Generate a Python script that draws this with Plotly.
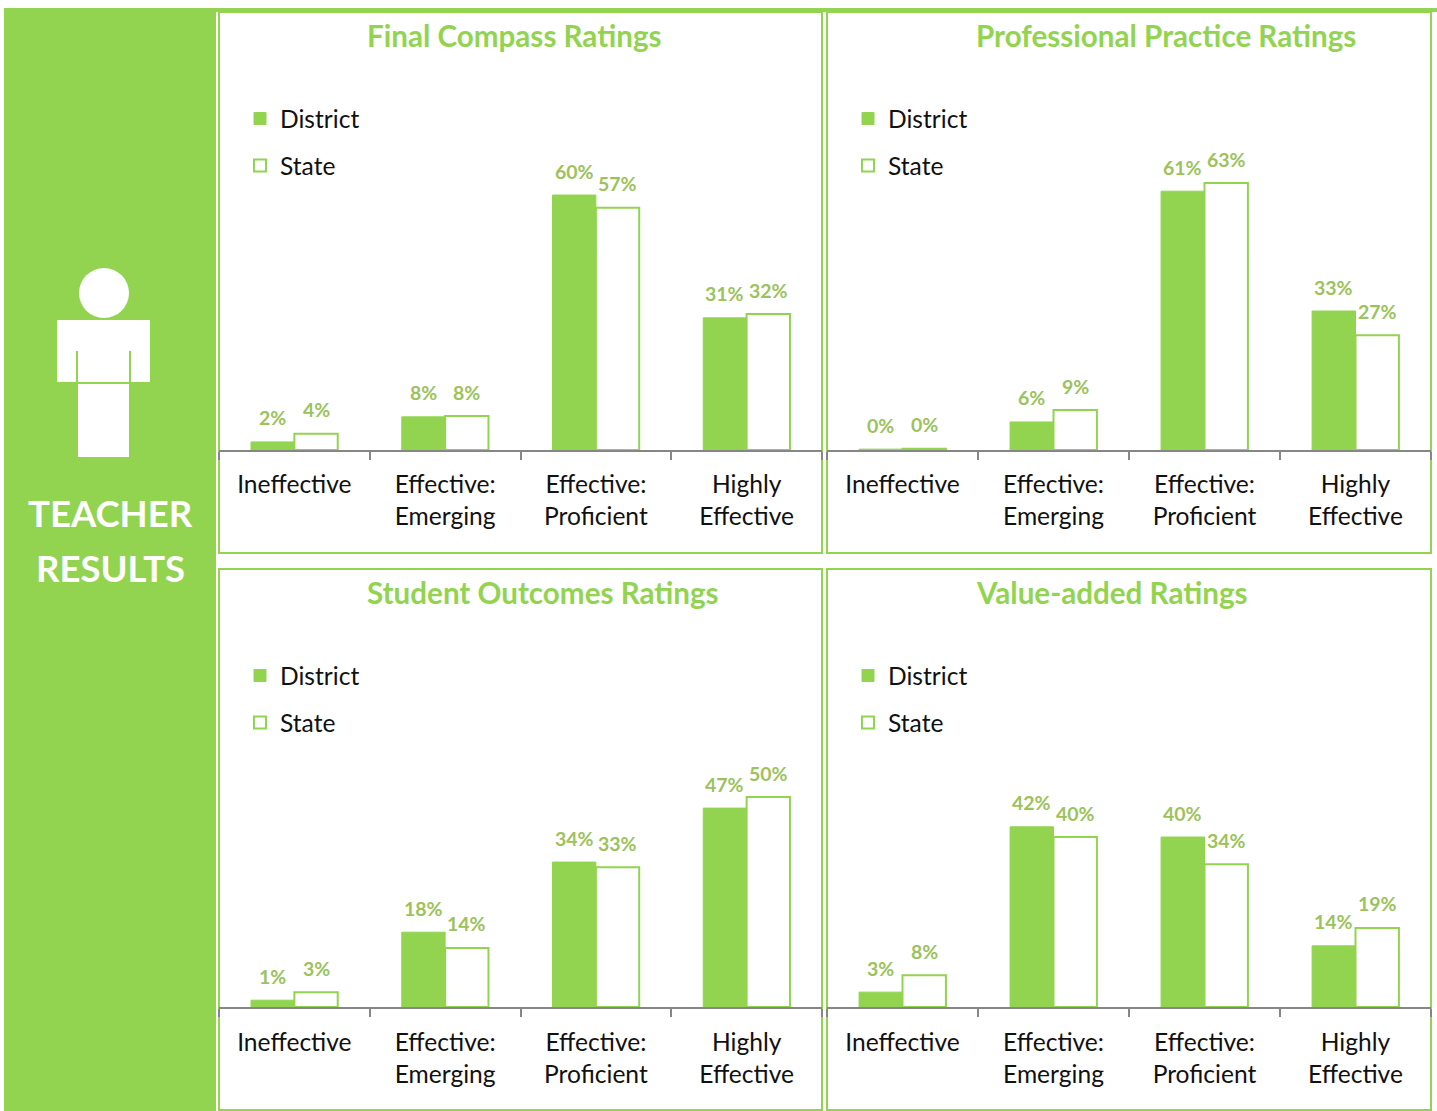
import plotly.graph_objects as go

W, H = 1437, 1111
GREEN = "#92D450"
LABEL = "#9CC25C"
AXIS = "#868686"
FONT = "Lato"

categories = ["Ineffective", "Effective:<br>Emerging", "Effective:<br>Proficient", "Highly<br>Effective"]
series_names = ["District", "State"]

titles = ["Final Compass Ratings", "Professional Practice Ratings", "Student Outcomes Ratings", "Value-added Ratings"]

# bar heights
district_values = [
    [1.9, 7.8, 60.0, 31.1],
    [0.2, 6.6, 60.9, 32.7],
    [1.6, 17.6, 34.1, 46.8],
    [3.5, 42.4, 40.0, 14.4],
]
state_values = [
    [3.8, 8.0, 57.0, 32.0],
    [0.3, 9.4, 62.8, 27.0],
    [3.5, 13.9, 32.9, 49.4],
    [7.5, 40.0, 33.6, 18.6],
]
# printed labels
district_labels = [
    ["2%", "8%", "60%", "31%"],
    ["0%", "6%", "61%", "33%"],
    ["1%", "18%", "34%", "47%"],
    ["3%", "42%", "40%", "14%"],
]
state_labels = [
    ["4%", "8%", "57%", "32%"],
    ["0%", "9%", "63%", "27%"],
    ["3%", "14%", "33%", "50%"],
    ["8%", "40%", "34%", "19%"],
]

# panel geometry in page pixels: left, right, top, bottom
panels = [(219, 822, 12, 553), (827, 1431, 12, 553), (219, 822, 569, 1110), (827, 1431, 569, 1110)]
baselines = [450, 450, 1007, 1007]
title_left = [365, 973.5, 365, 973.5]
label_standoff = [11, 11, 12, 12]
Y_MAX = 70
PX_PER_UNIT = 4.25
BAR_STEP = 0.145


def px(x):
    return x / W


def py(y):
    return 1 - y / H


def rect(x0, y0, x1, y1, fill=GREEN, line=None, width=0):
    return dict(type="rect", xref="paper", yref="paper", x0=px(x0), x1=px(x1), y0=py(y0), y1=py(y1),
                fillcolor=fill, line=dict(color=line or fill, width=width), layer="below")


fig = go.Figure()
shapes = [rect(4, 8, 216, 1111), rect(216, 8, 1437, 12)]
annotations = []

for i in range(4):
    left, right, top, bottom = panels[i]
    base = baselines[i]
    s = "" if i == 0 else str(i + 1)
    xname, yname, lname = "x" + s, "y" + s, "legend" + s

    shapes.append(rect(left, top, right, bottom, fill="white", line=GREEN, width=2))

    fig.add_trace(go.Bar(
        x=categories, y=district_values[i], name=series_names[0], xaxis=xname, yaxis=yname, legend=lname,
        legendgroup="d" + s, marker=dict(color=GREEN, line=dict(color=GREEN, width=1)),
        offsetgroup="d", hoverinfo="skip"))
    fig.add_trace(go.Bar(
        x=categories, y=state_values[i], name=series_names[1], xaxis=xname, yaxis=yname, legend=lname,
        legendgroup="s" + s, marker=dict(color="white", line=dict(color=GREEN, width=2)),
        offsetgroup="s", hoverinfo="skip"))

    axis_x = dict(
        domain=[px(left), px(right)], anchor=yname, type="category", categoryorder="array",
        categoryarray=categories, range=[-0.5, 3.5], tickson="boundaries", ticks="outside", ticklen=8, tickwidth=2,
        tickcolor=AXIS, showline=True, linecolor=AXIS, linewidth=2, showgrid=False, zeroline=False, tickangle=0,
        tickfont=dict(family=FONT, size=24.6, color="#111111"), ticklabelstandoff=label_standoff[i], fixedrange=True)
    axis_y = dict(
        domain=[py(base), py(base - Y_MAX * PX_PER_UNIT)], anchor=xname, range=[0, Y_MAX], visible=False,
        fixedrange=True)
    fig.update_layout({"xaxis" + s: axis_x, "yaxis" + s: axis_y})

    fig.update_layout({lname: dict(
        x=px(left + 21), xanchor="left", y=py(top + 84), yanchor="top", bgcolor="rgba(0,0,0,0)", borderwidth=0,
        tracegroupgap=12, traceorder="grouped", orientation="v",
        font=dict(family=FONT, size=24.6, color="#111111"))})

    annotations.append(dict(
        text="<b>" + titles[i] + "</b>", xref="paper", yref="paper", x=px(title_left[i]), y=py(top + 23.5),
        xanchor="left", yanchor="middle", showarrow=False, font=dict(family=FONT, size=29.6, color=GREEN)))

    for j in range(4):
        for off, vals, labs in ((-BAR_STEP, district_values[i], district_labels[i]),
                                (BAR_STEP, state_values[i], state_labels[i])):
            annotations.append(dict(
                text="<b>" + labs[j] + "</b>", xref=xname, yref=yname, x=j + off, y=vals[j], yshift=24,
                xanchor="center", yanchor="middle", showarrow=False,
                font=dict(family=FONT, size=19.5, color=LABEL)))

# person icon and heading of the side band
shapes += [
    dict(type="circle", xref="paper", yref="paper", x0=px(79), x1=px(129), y0=py(268), y1=py(318),
         fillcolor="white", line=dict(width=0), layer="below"),
    rect(57, 320, 150, 382, fill="white"),
    rect(76, 351, 78, 382),
    rect(129, 351, 131, 382),
    rect(76, 382, 131, 384),
    rect(78, 384, 129, 457, fill="white"),
]
for text, y in (("TEACHER", 513), ("RESULTS", 568)):
    annotations.append(dict(
        text="<b>" + text + "</b>", xref="paper", yref="paper", x=px(110.5), y=py(y), xanchor="center",
        yanchor="middle", showarrow=False, font=dict(family=FONT, size=36.5, color="white")))

fig.update_layout(
    width=W, height=H, margin=dict(l=0, r=0, t=0, b=0, autoexpand=False), paper_bgcolor="white", plot_bgcolor="rgba(0,0,0,0)",
    barmode="group", bargap=0.425, bargroupgap=0, shapes=shapes, annotations=annotations, hovermode=False)

fig.write_html("out.html", config=dict(displayModeBar=False), post_script="document.body.style.margin='0';document.body.style.overflow='hidden';window.dispatchEvent(new Event('resize'));")
